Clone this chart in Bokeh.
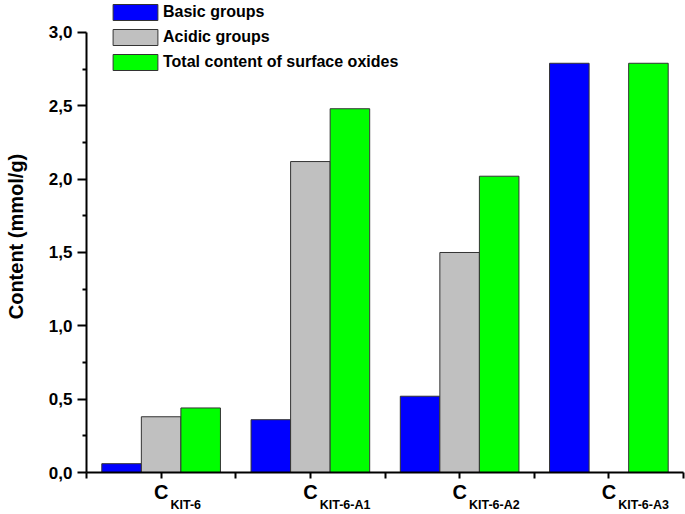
from bokeh.plotting import figure
from bokeh.models import (ColumnDataSource, FixedTicker, CustomJSTickFormatter,
                          LinearAxis, Legend, LegendItem)
from bokeh.embed import file_html
from bokeh.resources import INLINE

# ---- data ----
categories = ["KIT-6", "KIT-6-A1", "KIT-6-A2", "KIT-6-A3"]
basic = [0.06, 0.36, 0.52, 2.79]
acidic = [0.38, 2.12, 1.50, 0.0]
total = [0.44, 2.48, 2.02, 2.79]
series_names = ["Basic groups", "Acidic groups", "Total content of surface oxides"]
series_colors = ["#0000FF", "#C0C0C0", "#00FF00"]
y_ticks = [0.0, 0.5, 1.0, 1.5, 2.0, 2.5, 3.0]
y_minor = [0.25, 0.75, 1.25, 1.75, 2.25, 2.75]
y_title = "Content (mmol/g)"

FONT = "Liberation Sans"
xpos = [i + 1 for i in range(len(categories))]
bar_w = 0.265

# approximate Arial-Bold advance widths (em) to place subscripts just right of the "C"
EM = {"K": .722, "I": .278, "T": .611, "-": .333, "A": .722,
      "1": .556, "2": .556, "3": .556, "6": .556}
SUB_PX = 12.5
PX_PER_UNIT = 149.25
def sub_center(x, s):
    w = sum(EM.get(c, .556) for c in s) * SUB_PX
    return x + (9 + w / 2) / PX_PER_UNIT

p = figure(width=685, height=514, output_backend="svg", toolbar_location=None,
           x_range=(0.5, 4.5), y_range=(0, 3.218),
           min_border_left=86, min_border_right=2, min_border_top=0,
           min_border_bottom=42)
p.outline_line_color = None
p.xgrid.visible = False
p.ygrid.visible = False

renderers = []
for k, (vals, name, col) in enumerate(zip([basic, acidic, total], series_names, series_colors)):
    src = ColumnDataSource(dict(x=[x + (k - 1) * bar_w for x in xpos], top=vals))
    r = p.vbar(x="x", top="top", width=bar_w, bottom=0, source=src,
               fill_color=col, line_color="#333333", line_width=1)
    renderers.append((name, r))

# y axis
yax = p.yaxis[0]
yax.ticker = FixedTicker(ticks=y_ticks, minor_ticks=y_minor)
yax.formatter = CustomJSTickFormatter(code="return tick.toFixed(1).replace('.', ',');")
yax.bounds = (0, 3.0)
yax.axis_line_width = 2
yax.major_tick_line_width = 2
yax.minor_tick_line_width = 2
yax.major_tick_out = 9
yax.major_tick_in = 0
yax.minor_tick_out = 4
yax.minor_tick_in = 0
yax.major_label_text_font = FONT
yax.major_label_text_font_style = "bold"
yax.major_label_text_font_size = "17px"
yax.major_label_text_color = "black"
yax.major_label_standoff = 5
yax.axis_label = y_title
yax.axis_label_text_font = FONT
yax.axis_label_text_font_style = "bold"
yax.axis_label_text_font_size = "20px"
yax.axis_label_text_color = "black"
yax.axis_label_standoff = 19

# x axis: main letter "C" at each category
xax = p.xaxis[0]
xax.ticker = FixedTicker(ticks=xpos, minor_ticks=[0.5, 1.5, 2.5, 3.5, 4.5])
xax.formatter = CustomJSTickFormatter(code="return 'C';")
xax.axis_line_width = 2
xax.major_tick_line_width = 2
xax.minor_tick_line_width = 2
xax.major_tick_out = 6
xax.major_tick_in = 0
xax.minor_tick_out = 6
xax.minor_tick_in = 0
xax.major_label_text_font = FONT
xax.major_label_text_font_style = "bold"
xax.major_label_text_font_size = "20px"
xax.major_label_text_color = "black"
xax.major_label_standoff = 2

# second axis below: subscripts
sub_ax = LinearAxis(ticker=FixedTicker(ticks=[sub_center(x, c) for x, c in zip(xpos, categories)],
                                       minor_ticks=[]),
                    formatter=CustomJSTickFormatter(args=dict(labels=categories),
                                                    code="return labels[index];"),
                    axis_line_color=None, major_tick_line_color=None,
                    minor_tick_line_color=None, major_tick_out=0, major_tick_in=0,
                    minor_tick_out=0, minor_tick_in=0,
                    major_label_standoff=-8,
                    major_label_text_font=FONT, major_label_text_font_style="bold",
                    major_label_text_font_size=f"{SUB_PX}px", major_label_text_color="black")
p.add_layout(sub_ax, "below")

legend = Legend(items=[LegendItem(label=n, renderers=[r]) for n, r in renderers],
                location=(21, 400), orientation="vertical",
                glyph_width=56, glyph_height=20, label_standoff=0, spacing=5,
                padding=0, margin=0, border_line_alpha=0, background_fill_alpha=0,
                label_text_font=FONT, label_text_font_style="bold",
                label_text_font_size="16px", label_text_color="black")
p.add_layout(legend)

open("out.html", "w").write(file_html(p, INLINE))
